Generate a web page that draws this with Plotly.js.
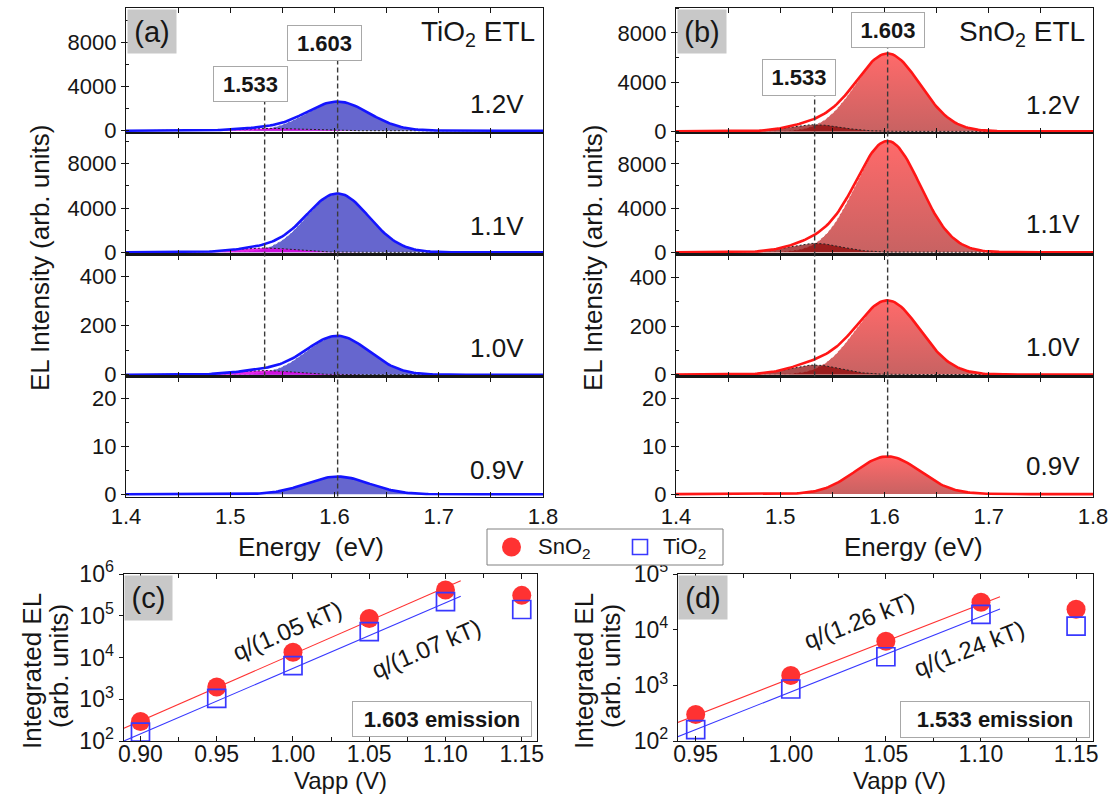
<!DOCTYPE html>
<html>
<head>
<meta charset="utf-8">
<script src="https://cdn.plot.ly/plotly-3.0.1.min.js"></script>
<style>
  html, body { margin: 0; padding: 0; background: #fff; }
  #chart { width: 1115px; height: 795px; }
</style>
</head>
<body>
<div id="chart"></div>
<script>
// ---- EL spectra: fitted Gaussian components at each applied bias ----
const biasLabels = ['1.2V', '1.1V', '1.0V', '0.9V'];
const mainPeakEV = 1.603;      // main emission (eV)
const shoulderPeakEV = 1.533;  // low-energy emission (eV)
const tio2MainAmp = [2640, 5300, 158, 3.7];
const tio2ShoulderAmp = [220, 390, 17, 0];
const tio2MainSigma = 0.030;
const tio2ShoulderSigma = 0.028;
const sno2MainAmp = [6320, 10050, 305, 7.85];
const sno2ShoulderAmp = [540, 800, 39, 0];
const sno2MainSigma = 0.031;
const sno2ShoulderSigma = 0.025;

// ---- Integrated EL versus applied bias ----
const vappHigh = [0.90, 0.95, 1.00, 1.05, 1.10, 1.15];
const sno2High = [294, 1970, 13400, 86000, 414000, 308000];
const tio2High = [163, 1050, 6370, 41700, 217000, 141000];
const vappLow = [0.95, 1.00, 1.05, 1.10, 1.15];
const sno2Low = [300, 1500, 6200, 31000, 23200];
const tio2Low = [160, 860, 3260, 18900, 11600];

// ideality factors (SnO2, TiO2) and fitted intensity at 1.00 V
const idealityHigh = [1.05, 1.07];
const fitAt1VHigh = [12000, 5500];
const idealityLow = [1.26, 1.24];
const fitAt1VLow = [1330, 762];
const fitSpanHigh = [0.885, 1.11];
const fitSpanLow = [0.94, 1.11];
const kT = 0.025852;

// ---- page geometry ----
const W = 1115, H = 795;
const fx = p => p / W;
const fy = p => 1 - p / H;
const FONT = 'Liberation Sans, Arial, sans-serif';
const INK = '#161616';

const rowsPx = [[8, 133], [133, 254.5], [254.5, 376.5], [376.5, 496.5]];
const colPx = { a: [126, 543], b: [676, 1093] };
const rangesA = [[-209, 11155], [-199, 10772], [-7.3, 490.6], [-0.46, 24.54]];
const rangesB = [[-130, 10030], [-208, 10787], [-8.2, 495], [-0.5, 24.5]];
const majorStep = [4000, 4000, 200, 10];
const minorStep = [2000, 2000, 100, 5];

const axKey = (k, id) => id === 1 ? k + 'axis' : k + 'axis' + id;
const axRef = (k, id) => id === 1 ? k : k + id;

const gauss = (e, c, a, s) => a * Math.exp(-((e - c) * (e - c)) / (2 * s * s));
const energies = [];
for (let i = 0; i <= 200; i++) energies.push(1.4 + i * 0.002);

const layout = {
  width: W, height: H,
  margin: { l: 0, r: 0, t: 0, b: 0 },
  paper_bgcolor: '#fff', plot_bgcolor: 'rgba(0,0,0,0)',
  font: { family: FONT, color: INK },
  showlegend: false,
  annotations: [],
  shapes: []
};
const traces = [];

function upperAxes(col, row, id, range) {
  const [top, bot] = rowsPx[row];
  layout[axKey('x', id)] = {
    domain: [fx(colPx[col][0]), fx(colPx[col][1])], anchor: axRef('y', id),
    range: [1.4, 1.8], tick0: 1.4, dtick: 0.1,
    ticks: 'inside', ticklen: 5, tickcolor: INK, tickwidth: 1,
    minor: { ticks: 'inside', ticklen: 5, tick0: 1.4, dtick: 0.05, tickcolor: INK, showgrid: false },
    showline: true, linecolor: INK, linewidth: 1.2, mirror: 'ticks',
    showgrid: false, zeroline: false,
    showticklabels: row === 3, ticklabelstandoff: 0,
    tickfont: { family: FONT, size: 22, color: INK }
  };
  layout[axKey('y', id)] = {
    domain: [fy(bot), fy(top)], anchor: axRef('x', id),
    range: range, tick0: 0, dtick: majorStep[row], tickformat: 'd',
    ticks: 'outside', ticklen: 4, tickcolor: INK,
    minor: { ticks: 'inside', ticklen: 3, tick0: 0, dtick: minorStep[row], tickcolor: INK, showgrid: false },
    showline: true, linecolor: INK, linewidth: 1.2, mirror: true,
    showgrid: false, zeroline: false,
    tickfont: { family: FONT, size: 22, color: INK }
  };
}

function spectrum(id, mainAmp, mainSigma, shAmp, shSigma, style) {
  const xr = axRef('x', id), yr = axRef('y', id);
  const mainY = energies.map(e => gauss(e, mainPeakEV, mainAmp, mainSigma));
  const shY = energies.map(e => gauss(e, shoulderPeakEV, shAmp, shSigma));
  const envY = energies.map((e, i) => mainY[i] + shY[i]);
  const mainTrace = {
    x: energies, y: mainY, xaxis: xr, yaxis: yr, type: 'scatter', mode: 'lines',
    fill: 'tozeroy', line: { color: 'rgba(255,255,255,0.9)', width: 1, dash: '3px,2px' },
    hoverinfo: 'skip'
  };
  if (style.gradient) {
    mainTrace.fillgradient = { type: 'vertical', start: 0, stop: mainAmp,
      colorscale: [[0, style.fillLow], [1, style.fillHigh]] };
  } else {
    mainTrace.fillcolor = style.fill;
  }
  traces.push(mainTrace);
  if (shAmp > 0) {
    traces.push({
      x: energies, y: shY, xaxis: xr, yaxis: yr, type: 'scatter', mode: 'lines',
      fill: 'tozeroy', fillcolor: style.shoulder,
      line: { color: '#222', width: 1, dash: '2px,2px' }, hoverinfo: 'skip'
    });
  }
  traces.push({
    x: energies, y: envY, xaxis: xr, yaxis: yr, type: 'scatter', mode: 'lines',
    line: { color: style.line, width: 2.6 }, hoverinfo: 'skip'
  });
}

const tio2Style = { fill: 'rgb(102,102,206)', shoulder: 'rgba(226,0,226,0.85)', line: '#1414ff' };
const sno2Style = { gradient: true, fillLow: 'rgb(200,98,98)', fillHigh: 'rgb(255,106,106)',
                    shoulder: 'rgba(135,0,0,0.7)', line: '#ff1616' };

for (let r = 0; r < 4; r++) {
  upperAxes('a', r, r + 1, rangesA[r]);
  spectrum(r + 1, tio2MainAmp[r], tio2MainSigma, tio2ShoulderAmp[r], tio2ShoulderSigma, tio2Style);
  upperAxes('b', r, r + 5, rangesB[r]);
  spectrum(r + 5, sno2MainAmp[r], sno2MainSigma, sno2ShoulderAmp[r], sno2ShoulderSigma, sno2Style);
}

// pixel height of a value inside an upper sub-panel
function rowPixel(row, range, v) {
  const [top, bot] = rowsPx[row];
  return bot - (v - range[0]) / (range[1] - range[0]) * (bot - top);
}

// ---- lower panels: integrated EL on log axes ----
const lowerTop = 574, lowerBot = 741;
const logTicks = (lo, hi) => {
  const v = [], t = [];
  for (let k = lo; k <= hi; k++) { v.push(Math.pow(10, k)); t.push('10<sup>' + k + '</sup>'); }
  return { v, t };
};
function lowerAxes(id, xPx, xRange, tick0, logLo, logHi) {
  const lt = logTicks(logLo, logHi);
  layout[axKey('x', id)] = {
    domain: [fx(xPx[0]), fx(xPx[1])], anchor: axRef('y', id),
    range: xRange, tick0: tick0, dtick: 0.05, tickformat: '.2f',
    ticks: 'inside', ticklen: 5, tickcolor: INK,
    minor: { ticks: 'inside', ticklen: 4, tick0: tick0 - 0.025, dtick: 0.05, tickcolor: INK, showgrid: false },
    showline: true, linecolor: INK, linewidth: 1.2, mirror: 'ticks',
    showgrid: false, zeroline: false, ticklabelstandoff: -8,
    tickfont: { family: FONT, size: 23, color: INK }
  };
  layout[axKey('y', id)] = {
    domain: [fy(lowerBot), fy(lowerTop)], anchor: axRef('x', id),
    type: 'log', range: [logLo, logHi], tickmode: 'array', tickvals: lt.v, ticktext: lt.t,
    ticks: 'outside', ticklen: 4, tickcolor: INK,
    showline: true, linecolor: INK, linewidth: 1.2, mirror: true,
    showgrid: false, zeroline: false,
    tickfont: { family: FONT, size: 23, color: INK }
  };
}
lowerAxes(9, [123.7, 537], [0.889, 1.160], 0.90, 2, 6);
lowerAxes(10, [678, 1093], [0.9407, 1.1589], 0.95, 2, 5);

const RED = '#ff3232', BLUE = '#3838ff';
function fitLine(id, span, n, at1V, color) {
  const slope = 1 / (n * kT); // natural-log slope per volt
  traces.push({
    x: span, y: span.map(v => at1V * Math.exp(slope * (v - 1.0))),
    xaxis: axRef('x', id), yaxis: axRef('y', id), type: 'scatter', mode: 'lines',
    line: { color: color, width: 1.1 }, hoverinfo: 'skip', cliponaxis: true
  });
}
function points(id, x, y, isSnO2) {
  traces.push({
    x: x, y: y, xaxis: axRef('x', id), yaxis: axRef('y', id), type: 'scatter', mode: 'markers',
    name: isSnO2 ? 'SnO2' : 'TiO2',
    marker: isSnO2 ? { symbol: 'circle', size: 19, color: RED }
                   : { symbol: 'square-open', size: 18, color: BLUE, line: { color: BLUE, width: 1.7 } },
    cliponaxis: false, hoverinfo: 'x+y'
  });
}
fitLine(9, fitSpanHigh, idealityHigh[0], fitAt1VHigh[0], RED);
fitLine(9, fitSpanHigh, idealityHigh[1], fitAt1VHigh[1], BLUE);
fitLine(10, fitSpanLow, idealityLow[0], fitAt1VLow[0], RED);
fitLine(10, fitSpanLow, idealityLow[1], fitAt1VLow[1], BLUE);
points(9, vappHigh, sno2High, true);
points(9, vappHigh, tio2High, false);
points(10, vappLow, sno2Low, true);
points(10, vappLow, tio2Low, false);

// ---- text ----
const ann = layout.annotations;
function text(t, x, y, size, opts) {
  ann.push(Object.assign({ text: t, xref: 'paper', yref: 'paper', x: fx(x), y: fy(y),
    xanchor: 'center', yanchor: 'middle', showarrow: false,
    font: { family: FONT, size: size, color: INK } }, opts || {}));
}
function boxed(t, cx, cy, w, h, size, opts) {
  text(t, cx, cy, size, Object.assign({ width: w, height: h, borderpad: 0, valign: 'middle' }, opts));
}

// shared legend for the integrated-EL panels
const shp = layout.shapes;
shp.push({ type: 'rect', xref: 'paper', yref: 'paper', x0: fx(487), x1: fx(723), y0: fy(565), y1: fy(529),
  line: { color: '#808080', width: 1 }, fillcolor: '#fff', layer: 'above' });
shp.push({ type: 'circle', xref: 'paper', yref: 'paper', x0: fx(502), x1: fx(521), y0: fy(556.5), y1: fy(537.5),
  line: { color: RED, width: 0 }, fillcolor: RED, layer: 'above' });
shp.push({ type: 'rect', xref: 'paper', yref: 'paper', x0: fx(632.5), x1: fx(647.5), y0: fy(554.5), y1: fy(539.5),
  line: { color: BLUE, width: 1.6 }, fillcolor: 'rgba(0,0,0,0)', layer: 'above' });
text('SnO<sub>2</sub>', 536, 548, 22, { xanchor: 'left' });
text('TiO<sub>2</sub>', 661, 548, 22, { xanchor: 'left' });

// panel letters
boxed('(a)', 152, 31.5, 48, 43, 29, { bgcolor: '#c8c8c8' });
boxed('(b)', 702, 31.5, 48, 43, 29, { bgcolor: '#c8c8c8' });
boxed('(c)', 148.5, 598, 47, 44, 29, { bgcolor: '#c8c8c8' });
boxed('(d)', 703, 597.5, 48, 43, 29, { bgcolor: '#c8c8c8' });

// peak energy tags
const tagOpts = { bgcolor: '#fff', bordercolor: '#a8a8a8', borderwidth: 1 };
boxed('<b>' + mainPeakEV.toFixed(3) + '</b>', 324.5, 43, 73, 34, 22, tagOpts);
boxed('<b>' + shoulderPeakEV.toFixed(3) + '</b>', 250.5, 84, 73, 34, 22, tagOpts);
boxed('<b>' + mainPeakEV.toFixed(3) + '</b>', 888, 30, 72, 34, 22, tagOpts);
boxed('<b>' + shoulderPeakEV.toFixed(3) + '</b>', 799, 77.5, 72, 35, 22, tagOpts);
boxed('<b>' + mainPeakEV.toFixed(3) + ' emission</b>', 442, 719, 178, 34, 22, tagOpts);
boxed('<b>' + shoulderPeakEV.toFixed(3) + ' emission</b>', 995, 719, 188, 35, 22, tagOpts);

// device labels
text('TiO<sub>2</sub> ETL', 537, 34, 28, { xanchor: 'right' });
text('SnO<sub>2</sub> ETL', 1087, 34, 28, { xanchor: 'right' });

// bias labels
const biasYA = [104, 226, 348, 470];
const biasYB = [105, 224, 347, 466];
biasLabels.forEach((b, i) => {
  text(b, 526, biasYA[i], 26, { xanchor: 'right' });
  text(b, 1082, biasYB[i], 26, { xanchor: 'right' });
});

// axis titles
text('EL Intensity (arb. units)', 40, 258, 26, { textangle: -90 });
text('EL Intensity (arb. units)', 593, 258, 26, { textangle: -90 });
text('Energy  (eV)', 311, 547, 26);
text('Energy (eV)', 913, 547, 26);
text('Integrated EL', 32, 671, 26, { textangle: -90 });
text('(arb. units)', 59, 666, 26, { textangle: -90 });
text('Integrated EL', 584, 671, 26, { textangle: -90 });
text('(arb. units)', 611, 666, 26, { textangle: -90 });
text('Vapp (V)', 341, 780, 24);
text('Vapp (V)', 899, 780, 24);

// ideality labels along the fits
text('q/(' + idealityHigh[0].toFixed(2) + ' kT)', 287, 630, 24, { textangle: -23 });
text('q/(' + idealityHigh[1].toFixed(2) + ' kT)', 426, 648, 24, { textangle: -23 });
text('q/(' + idealityLow[0].toFixed(2) + ' kT)', 859, 620, 24, { textangle: -21 });
text('q/(' + idealityLow[1].toFixed(2) + ' kT)', 969, 648, 24, { textangle: -21 });

// ---- dashed peak markers ----
function vline(xref, xv, yTopPx, yBotPx) {
  shp.push({ type: 'line', xref: xref, yref: 'paper', x0: xv, x1: xv,
    y0: fy(yBotPx), y1: fy(yTopPx), line: { color: '#3a3a3a', width: 1.4, dash: '5px,3px' }, layer: 'above' });
}
vline('x', mainPeakEV, 60, rowsPx[3][1]);
vline('x', shoulderPeakEV, 101, rowsPx[2][1]);
vline('x5', mainPeakEV, 47, rowPixel(3, rangesB[3], sno2MainAmp[3]));
vline('x5', shoulderPeakEV, 95, rowsPx[2][1]);

Plotly.newPlot('chart', traces, layout, { staticPlot: true, displayModeBar: false });
</script>
</body>
</html>
